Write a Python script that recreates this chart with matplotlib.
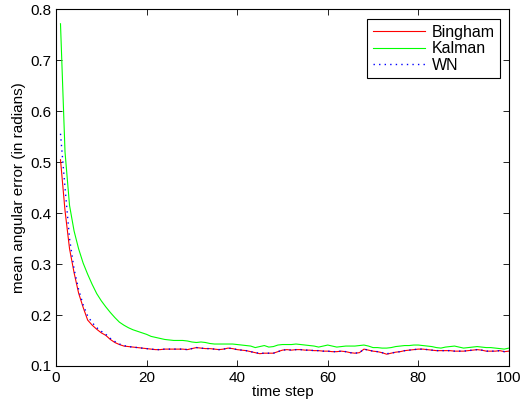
import matplotlib
matplotlib.use("Agg")
import matplotlib.pyplot as plt
import numpy as np

# mean angular error per time step
time_step = list(range(1, 101))

bingham = [
    0.505, 0.405, 0.330, 0.283, 0.243, 0.215, 0.190, 0.180, 0.172, 0.165,
    0.160, 0.152, 0.146, 0.142, 0.139, 0.138, 0.137, 0.136, 0.135, 0.134,
    0.133, 0.132, 0.132, 0.133, 0.133, 0.133, 0.133, 0.133, 0.132, 0.134,
    0.136, 0.135, 0.134, 0.134, 0.133, 0.132, 0.133, 0.135, 0.134, 0.132,
    0.131, 0.130, 0.128, 0.126, 0.124, 0.125, 0.125, 0.125, 0.128, 0.131,
    0.132, 0.131, 0.132, 0.132, 0.131, 0.131, 0.130, 0.130, 0.129, 0.129,
    0.128, 0.128, 0.129, 0.128, 0.126, 0.125, 0.126, 0.133, 0.131, 0.129,
    0.128, 0.126, 0.123, 0.125, 0.127, 0.128, 0.130, 0.131, 0.132, 0.133,
    0.133, 0.132, 0.131, 0.130, 0.130, 0.130, 0.130, 0.129, 0.129, 0.129,
    0.130, 0.131, 0.132, 0.131, 0.129, 0.129, 0.129, 0.130, 0.128, 0.129,
]

kalman = [
    0.772, 0.520, 0.415, 0.365, 0.330, 0.302, 0.280, 0.260, 0.242, 0.228,
    0.216, 0.205, 0.195, 0.186, 0.180, 0.175, 0.171, 0.168, 0.165, 0.162,
    0.158, 0.156, 0.154, 0.152, 0.151, 0.150, 0.150, 0.150, 0.149, 0.147,
    0.146, 0.147, 0.146, 0.144, 0.143, 0.143, 0.143, 0.143, 0.143, 0.142,
    0.141, 0.140, 0.139, 0.136, 0.138, 0.140, 0.137, 0.138, 0.141, 0.142,
    0.142, 0.142, 0.143, 0.142, 0.141, 0.140, 0.139, 0.137, 0.139, 0.141,
    0.139, 0.137, 0.138, 0.139, 0.139, 0.139, 0.140, 0.141, 0.139, 0.136,
    0.136, 0.135, 0.135, 0.136, 0.138, 0.139, 0.140, 0.140, 0.141, 0.141,
    0.140, 0.139, 0.138, 0.136, 0.135, 0.137, 0.138, 0.139, 0.137, 0.135,
    0.136, 0.137, 0.138, 0.137, 0.136, 0.136, 0.135, 0.134, 0.133, 0.135,
]

wn = [
    0.556, 0.450, 0.350, 0.290, 0.250, 0.220, 0.198, 0.185, 0.175, 0.168,
    0.162, 0.154, 0.148, 0.143, 0.140, 0.138, 0.137, 0.136, 0.135, 0.134,
    0.133, 0.132, 0.132, 0.133, 0.133, 0.133, 0.133, 0.133, 0.132, 0.134,
    0.136, 0.135, 0.134, 0.134, 0.133, 0.132, 0.133, 0.135, 0.134, 0.132,
    0.131, 0.130, 0.128, 0.126, 0.125, 0.125, 0.125, 0.125, 0.128, 0.131,
    0.132, 0.131, 0.132, 0.132, 0.131, 0.131, 0.130, 0.130, 0.129, 0.129,
    0.128, 0.128, 0.129, 0.128, 0.126, 0.125, 0.126, 0.133, 0.131, 0.129,
    0.128, 0.126, 0.124, 0.125, 0.127, 0.128, 0.130, 0.131, 0.132, 0.133,
    0.133, 0.132, 0.131, 0.130, 0.130, 0.130, 0.130, 0.129, 0.129, 0.129,
    0.130, 0.131, 0.132, 0.131, 0.129, 0.129, 0.129, 0.130, 0.128, 0.129,
]

x_ticks = [0, 20, 40, 60, 80, 100]
y_ticks = [0.1, 0.2, 0.3, 0.4, 0.5, 0.6, 0.7, 0.8]

plt.rcParams.update({
    "font.family": ["Liberation Sans", "DejaVu Sans"],
    "font.size": 11,
    "axes.linewidth": 0.8,
})

fig = plt.figure(figsize=(5.23, 4.13), dpi=100)
ax = fig.add_axes([0.107, 0.114, 0.866, 0.863])

ax.plot(time_step, bingham, color="#ff0000", lw=0.8, label="Bingham")
ax.plot(time_step, kalman, color="#00ff00", lw=0.8, label="Kalman")
ax.plot(time_step, wn, color="#0000ff", lw=1.0, ls=(0, (1, 3)), label="WN")

ax.set_xlim(0, 100)
ax.set_ylim(0.1, 0.8)
ax.set_xticks(x_ticks)
ax.set_yticks(y_ticks)
ax.set_xticklabels([str(t) for t in x_ticks])
ax.set_yticklabels([f"{t:.1f}" for t in y_ticks])
ax.tick_params(direction="in", length=4, width=0.6, top=True, right=True, labelsize=11)

ax.set_xlabel("time step", fontsize=11, labelpad=0)
ax.set_ylabel("mean angular error (in radians)", fontsize=11, labelpad=3)

leg = ax.legend(loc="upper right", bbox_to_anchor=(0.988, 0.982), fancybox=False,
                edgecolor="black", framealpha=1, handlelength=3.3, fontsize=11.5,
                borderaxespad=0.2, borderpad=0.35, handletextpad=0.4, labelspacing=0.1)
leg.get_frame().set_linewidth(0.8)

fig.savefig("out.png", dpi=100)
